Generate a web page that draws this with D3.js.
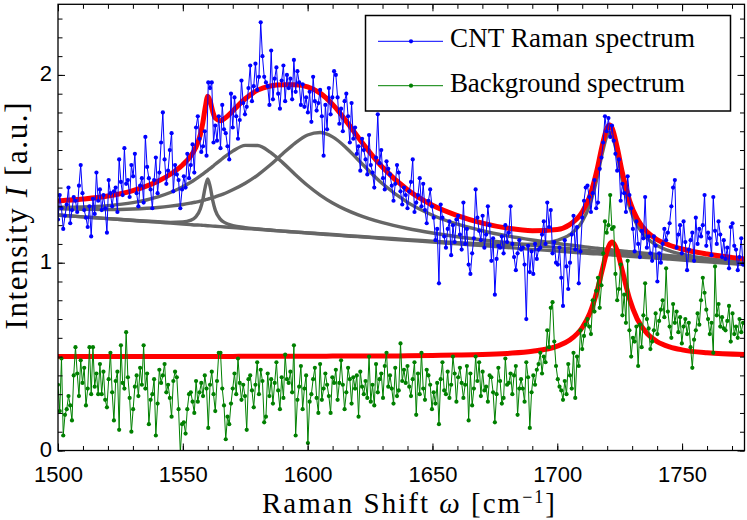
<!DOCTYPE html>
<html><head><meta charset="utf-8">
<script src="https://cdn.jsdelivr.net/npm/d3@7"></script>
<style>body{margin:0;background:#fff}svg{display:block}</style>
</head><body><svg id="c" width="747" height="520"></svg>
<script>
// Raman shift grid of the measured spectra (cm^-1)
const shiftStart = 1500, shiftStep = 0.7;
// CNT Raman spectrum (blue)
const cntIntensity = [
1.23,1.36,1.29,1.18,1.25,1.31,1.40,1.21,1.28,1.35,
1.33,1.27,1.41,1.52,1.37,1.28,1.24,1.19,1.30,1.14,
1.34,1.26,1.48,1.33,1.39,1.28,1.36,1.29,1.16,1.44,
1.37,1.30,1.38,1.40,1.27,1.55,1.43,1.36,1.61,1.42,
1.44,1.35,1.52,1.46,1.58,1.37,1.30,1.41,1.45,1.32,
1.67,1.51,1.45,1.39,1.29,1.44,1.56,1.37,1.48,1.64,
1.80,1.55,1.42,1.49,1.60,1.69,1.38,1.52,1.47,1.44,
1.29,1.39,1.46,1.40,1.58,1.45,1.52,1.63,1.48,1.72,
1.78,1.66,1.59,1.62,1.70,1.57,1.96,1.93,1.96,1.64,
1.73,1.65,1.78,1.61,1.84,1.71,1.69,1.62,1.55,1.90,
1.72,1.88,1.78,1.66,1.76,1.97,1.85,1.79,1.83,1.93,
2.05,1.86,1.94,2.06,1.92,1.99,2.28,2.10,1.99,1.96,
1.94,1.84,2.13,1.87,1.98,2.04,1.90,1.82,1.97,2.05,
1.86,2.00,1.93,1.98,1.87,2.08,1.91,2.02,1.96,1.84,
1.95,1.83,1.88,1.80,1.91,1.75,1.99,1.86,1.81,1.85,
1.92,1.78,1.57,1.84,1.71,1.93,1.79,1.88,2.02,2.00,
1.88,1.74,1.82,1.70,1.86,1.90,1.78,1.64,1.85,1.66,
1.72,1.58,1.62,1.49,1.66,1.60,1.55,1.47,1.68,1.52,
1.48,1.40,1.56,1.79,1.53,1.60,1.45,1.39,1.54,1.50,
1.47,1.41,1.33,1.42,1.52,1.48,1.38,1.31,1.40,1.36,
1.29,1.38,1.43,1.55,1.27,1.32,1.36,1.45,1.30,1.42,
1.28,1.21,1.33,1.39,1.30,1.24,1.12,1.18,0.89,1.31,
1.24,1.14,1.08,1.18,1.22,1.04,1.20,1.11,1.23,1.25,
1.15,1.07,1.32,1.10,1.18,0.99,0.94,1.05,1.13,1.39,
1.24,1.17,1.12,1.25,1.08,1.15,1.30,1.20,1.01,1.13,
0.83,1.02,1.09,1.08,1.14,1.05,1.20,1.11,1.16,1.30,
1.10,1.03,0.96,1.05,1.12,1.07,1.08,0.99,0.70,1.09,
0.95,1.06,0.94,1.10,1.02,1.07,1.08,1.15,1.22,1.10,
1.32,1.19,1.28,1.05,1.11,1.00,0.99,1.08,0.92,0.77,
1.12,0.98,0.86,1.00,1.15,1.25,1.07,1.19,0.89,1.06,
1.24,1.33,1.40,1.41,1.35,1.27,1.37,1.44,1.29,1.32,
1.50,1.56,1.64,1.78,1.70,1.77,1.67,1.73,1.65,1.58,
1.49,1.55,1.33,1.42,1.37,1.27,1.46,1.36,1.29,1.18,
1.06,1.22,1.10,1.03,1.17,1.13,1.35,1.08,1.14,1.05,
1.01,1.14,1.09,0.90,1.05,1.00,1.10,1.18,1.12,1.16,
1.21,1.30,1.40,1.44,1.08,1.15,1.20,1.05,1.22,1.11,
0.96,1.07,1.12,1.16,1.01,1.24,1.10,1.18,1.14,1.20,
1.36,1.09,1.16,1.13,1.04,1.35,1.17,1.10,1.22,1.15,
1.03,1.12,1.02,1.08,0.97,1.19,1.21,1.09,1.07,0.96,
1.03,1.13,0.99];
// Background spectrum (green)
const bgIntensity = [
0.35,0.21,0.49,0.08,0.19,0.22,0.29,0.24,0.16,0.40,
0.55,0.41,0.29,0.48,0.36,0.44,0.24,0.33,0.55,0.30,
0.55,0.34,0.41,0.30,0.46,0.30,0.42,0.27,0.23,0.38,
0.52,0.31,0.16,0.37,0.42,0.11,0.56,0.36,0.33,0.63,
0.39,0.28,0.10,0.22,0.34,0.40,0.29,0.44,0.35,0.56,
0.33,0.41,0.14,0.27,0.30,0.38,0.08,0.25,0.43,0.36,
0.40,0.46,0.31,0.35,0.28,0.18,0.37,0.42,0.39,0.22,
-0.01,0.14,0.15,0.09,0.22,0.30,0.31,0.26,0.20,0.37,
0.26,0.31,0.36,0.29,0.40,0.33,0.12,0.35,0.42,0.30,
0.21,0.37,0.52,0.52,0.33,0.24,0.06,0.18,0.14,0.25,
0.33,0.41,0.30,0.49,0.36,0.27,0.35,0.29,0.11,0.38,
0.40,0.32,0.23,0.35,0.47,0.30,0.43,0.37,0.15,0.18,
0.41,0.29,0.38,0.25,0.36,0.47,0.32,0.22,0.39,0.28,
0.51,0.38,0.36,0.42,0.31,0.56,0.08,0.27,0.34,0.45,
0.22,0.33,0.40,0.04,0.26,0.30,0.38,0.44,0.28,0.20,
0.46,0.27,0.33,0.41,0.35,0.29,0.20,0.39,0.36,0.43,
0.27,0.36,0.48,0.35,0.22,0.31,0.44,0.38,0.25,0.39,
0.33,0.40,0.18,0.42,0.34,0.30,0.37,0.28,0.50,0.26,
0.35,0.24,0.46,0.31,0.38,0.41,0.28,0.45,0.52,0.34,
0.40,0.33,0.25,0.44,0.29,0.32,0.57,0.37,0.43,0.36,
0.45,0.34,0.29,0.38,0.47,0.19,0.41,0.30,0.52,0.33,
0.27,0.43,0.40,0.35,0.22,0.31,0.25,0.36,0.14,0.38,
0.47,0.32,0.30,0.42,0.28,0.35,0.50,0.41,0.26,0.39,
0.44,0.36,0.28,0.35,0.45,0.16,0.41,0.24,0.33,0.50,
0.37,0.47,0.29,0.42,0.32,0.34,0.26,0.40,0.39,0.31,
0.15,0.30,0.44,0.37,0.25,0.28,0.49,0.35,0.36,0.41,
0.30,0.40,0.45,0.19,0.33,0.38,0.33,0.26,0.47,0.39,
0.12,0.31,0.40,0.35,0.43,0.46,0.52,0.41,0.50,0.47,
0.64,0.55,0.76,0.79,0.58,0.45,0.38,0.34,0.32,0.27,
0.37,0.30,0.46,0.40,0.33,0.52,0.28,0.50,0.45,0.64,
0.54,0.61,0.67,0.70,0.66,0.62,0.80,0.74,0.85,0.92,
0.76,0.88,1.05,1.22,1.16,1.20,1.36,1.18,1.19,0.94,
0.80,0.86,0.99,0.72,0.83,0.68,1.01,0.64,0.50,0.60,
0.58,0.66,0.45,0.67,0.55,0.72,0.89,0.70,0.65,0.54,
0.58,0.64,0.73,0.62,0.69,0.75,0.80,0.71,0.97,0.74,
0.66,0.60,0.78,0.68,0.74,0.63,0.71,0.57,0.66,0.70,
0.62,0.68,0.55,0.44,0.59,0.64,0.73,0.67,0.80,0.92,
0.84,0.75,0.70,0.62,0.68,0.52,0.98,0.72,0.78,0.66,
0.71,0.65,0.64,0.69,0.77,0.58,0.73,0.62,0.66,0.60,
0.70,0.63,0.68];
// Fit curves, sampled at these shifts
const fitShift = [1500,1510,1520,1530,1540,1545,1550,1553,1555,1557,1558,1559,1560,1561,1562,1563,1565,1567,1570,1575,1580,1585,1590,1595,1600,1605,1610,1615,1620,1630,1640,1650,1660,1670,1680,1690,1700,1705,1710,1713,1716,1718,1720,1721,1722,1724,1726,1729,1732,1736,1740,1745,1750,1760,1775];
const fitTotal = [1.329,1.339,1.355,1.384,1.434,1.471,1.522,1.565,1.608,1.681,1.744,1.828,1.886,1.858,1.804,1.770,1.756,1.771,1.808,1.873,1.919,1.941,1.948,1.947,1.936,1.903,1.843,1.762,1.672,1.508,1.388,1.306,1.251,1.211,1.184,1.170,1.177,1.203,1.270,1.354,1.499,1.624,1.719,1.733,1.716,1.614,1.484,1.329,1.234,1.163,1.123,1.093,1.073,1.046,1.020];
const fitPeak1560 = [1.253,1.244,1.235,1.226,1.218,1.215,1.217,1.225,1.241,1.286,1.335,1.404,1.446,1.402,1.331,1.280,1.232,1.212,1.198,1.187,1.180,1.174,1.168,1.163,1.158,1.153,1.148,1.143,1.139,1.129,1.119,1.110,1.100,1.091,1.081,1.071,1.062,1.057,1.052,1.049,1.047,1.045,1.043,1.042,1.041,1.039,1.037,1.034,1.031,1.027,1.024,1.019,1.014,1.005,0.990];
const fitPeak1578 = [1.295,1.297,1.304,1.320,1.351,1.374,1.405,1.427,1.444,1.462,1.472,1.482,1.492,1.502,1.513,1.524,1.545,1.566,1.594,1.625,1.624,1.589,1.533,1.470,1.411,1.360,1.318,1.284,1.256,1.213,1.182,1.158,1.138,1.121,1.106,1.093,1.080,1.074,1.068,1.064,1.061,1.059,1.056,1.055,1.054,1.052,1.050,1.046,1.043,1.038,1.034,1.029,1.023,1.013,0.997];
const fitPeak1605 = [1.287,1.284,1.283,1.286,1.294,1.301,1.310,1.317,1.322,1.328,1.332,1.335,1.339,1.342,1.346,1.351,1.360,1.370,1.388,1.423,1.467,1.520,1.580,1.637,1.680,1.693,1.670,1.618,1.551,1.420,1.321,1.253,1.205,1.170,1.143,1.121,1.102,1.094,1.086,1.081,1.077,1.074,1.071,1.070,1.068,1.065,1.063,1.059,1.055,1.049,1.044,1.038,1.032,1.020,1.003];
const fitPeak1721 = [1.254,1.244,1.235,1.225,1.216,1.211,1.206,1.203,1.201,1.200,1.199,1.198,1.197,1.196,1.195,1.194,1.192,1.190,1.187,1.182,1.178,1.173,1.168,1.164,1.159,1.155,1.150,1.145,1.141,1.132,1.123,1.115,1.107,1.101,1.097,1.099,1.119,1.149,1.220,1.308,1.455,1.581,1.678,1.692,1.676,1.575,1.445,1.293,1.199,1.130,1.092,1.063,1.045,1.022,0.999];
const fitBackground = [0.500,0.500,0.500,0.501,0.501,0.501,0.501,0.501,0.501,0.501,0.501,0.501,0.501,0.501,0.501,0.501,0.501,0.501,0.501,0.502,0.502,0.502,0.502,0.502,0.502,0.502,0.503,0.503,0.503,0.503,0.504,0.506,0.508,0.511,0.517,0.528,0.556,0.588,0.655,0.730,0.852,0.960,1.064,1.098,1.110,1.064,0.960,0.805,0.701,0.622,0.580,0.552,0.536,0.520,0.511];
const xTicks = [1500,1550,1600,1650,1700,1750];
const yTicks = [0,1,2];
const legendLabels = ["CNT Raman spectrum","Background spectrum"];

const svg = d3.select("#c");
svg.append("rect").attr("width",747).attr("height",520).attr("fill","#fff");
const L=58, R=744.5, T=4.3, B=450.5;
const x = d3.scaleLinear().domain([1500,1775]).range([L,R]);
const y = d3.scaleLinear().domain([0,2.376]).range([B,T]);

svg.append("clipPath").attr("id","pc").append("rect").attr("x",L).attr("y",T).attr("width",R-L).attr("height",B-T);
const plot = svg.append("g").attr("clip-path","url(#pc)");

const fitLine = arr => d3.line().x((d,i)=>x(fitShift[i])).y(d=>y(d)).curve(d3.curveMonotoneX)(arr);
[fitPeak1560,fitPeak1578,fitPeak1605,fitPeak1721].forEach(a=>{
  plot.append("path").attr("d",fitLine(a)).attr("fill","none").attr("stroke","#666").attr("stroke-width",3.4);
});
[fitTotal,fitBackground].forEach(a=>{
  plot.append("path").attr("d",fitLine(a)).attr("fill","none").attr("stroke","#ff0000").attr("stroke-width",5);
});

function series(vals,color){
  const pts = vals.map((v,i)=>[shiftStart+i*shiftStep,v]);
  plot.append("path").attr("d",d3.line().x(d=>x(d[0])).y(d=>y(d[1]))(pts))
    .attr("fill","none").attr("stroke",color).attr("stroke-width",1);
  plot.append("g").selectAll("circle").data(pts).join("circle")
    .attr("cx",d=>x(d[0])).attr("cy",d=>y(d[1])).attr("r",2.1).attr("fill",color);
}
series(bgIntensity,"#008000");
series(cntIntensity,"#0000ff");

// axes (ticks inward on all sides)
const tickFont = "'Liberation Sans', Arial, sans-serif";
function styleAxis(g){ g.select(".domain").remove(); g.selectAll("line").attr("stroke","#000").attr("stroke-width",1); g.selectAll("text").attr("font-family",tickFont).attr("font-size",22).attr("fill","#000"); }
const minorX = d3.range(1500,1776,10), minorY = d3.range(0,2.35,0.1);
svg.append("g").attr("transform",`translate(0,${B})`).call(d3.axisBottom(x).tickValues(xTicks).tickSize(-7).tickPadding(16).tickFormat(d3.format("d"))).call(styleAxis);
svg.append("g").attr("transform",`translate(0,${B})`).call(d3.axisBottom(x).tickValues(minorX).tickSize(-4.5).tickFormat("")).call(styleAxis);
svg.append("g").attr("transform",`translate(0,${T})`).call(d3.axisTop(x).tickValues(xTicks).tickSize(-7).tickFormat("")).call(styleAxis);
svg.append("g").attr("transform",`translate(0,${T})`).call(d3.axisTop(x).tickValues(minorX).tickSize(-4.5).tickFormat("")).call(styleAxis);
const yl = svg.append("g").attr("transform",`translate(${L},0)`).call(d3.axisLeft(y).tickValues(yTicks).tickSize(-7).tickPadding(6).tickFormat(d3.format("d"))).call(styleAxis);
yl.selectAll("text").attr("dy","0.27em");
svg.append("g").attr("transform",`translate(${L},0)`).call(d3.axisLeft(y).tickValues(minorY).tickSize(-4.5).tickFormat("")).call(styleAxis);
svg.append("g").attr("transform",`translate(${R},0)`).call(d3.axisRight(y).tickValues(yTicks).tickSize(-7).tickFormat("")).call(styleAxis);
svg.append("g").attr("transform",`translate(${R},0)`).call(d3.axisRight(y).tickValues(minorY).tickSize(-4.5).tickFormat("")).call(styleAxis);
svg.append("rect").attr("x",L).attr("y",T).attr("width",R-L).attr("height",B-T).attr("fill","none").attr("stroke","#000").attr("stroke-width",1.3);

// axis labels
const serif = "'Liberation Serif','Times New Roman',serif";
const xl = svg.append("text").attr("x",408.5).attr("y",513).attr("text-anchor","middle").attr("font-family",serif).attr("font-size",29).attr("textLength",293).attr("lengthAdjust","spacing");
xl.append("tspan").text("Raman Shift ");
xl.append("tspan").attr("font-style","italic").text("ω");
xl.append("tspan").text(" [cm");
xl.append("tspan").attr("font-size",18).attr("dy",-10).text("−1");
xl.append("tspan").attr("dy",10).text("]");
const ylab = svg.append("text").attr("transform","translate(27,216) rotate(-90)").attr("text-anchor","middle").attr("font-family",serif).attr("font-size",31).attr("textLength",227).attr("lengthAdjust","spacing");
ylab.append("tspan").text("Intensity ");
ylab.append("tspan").attr("font-style","italic").text("I");
ylab.append("tspan").text(" [a.u.]");

// legend
const lg = svg.append("g");
lg.append("rect").attr("x",365.5).attr("y",15.5).attr("width",365).attr("height",95.5).attr("fill","#fff").attr("stroke","#000").attr("stroke-width",1.5);
const legendColors = ["#0000ff","#008000"], legendY = [41.3,85.7], legendW = [245,235];
legendLabels.forEach((t,i)=>{
  lg.append("line").attr("x1",378).attr("x2",443).attr("y1",legendY[i]).attr("y2",legendY[i]).attr("stroke",legendColors[i]).attr("stroke-width",1);
  lg.append("circle").attr("cx",411).attr("cy",legendY[i]).attr("r",2.1).attr("fill",legendColors[i]);
  lg.append("text").attr("x",450).attr("y",legendY[i]+6).attr("font-family",serif).attr("font-size",27).attr("textLength",legendW[i]).attr("lengthAdjust","spacing").text(t);
});
</script></body></html>
